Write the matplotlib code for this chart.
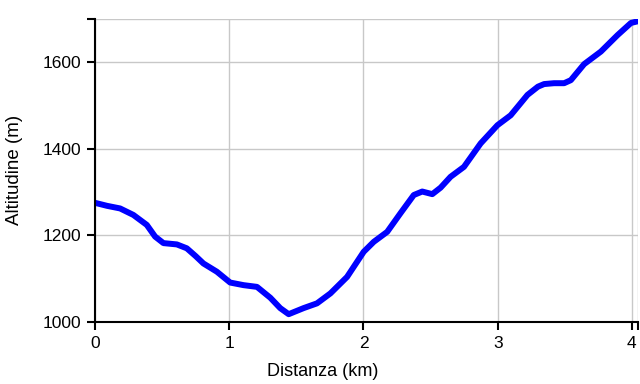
import matplotlib
matplotlib.use("Agg")
import matplotlib.pyplot as plt

plt.rcParams['font.family'] = ['Liberation Sans', 'DejaVu Sans']

dist_km = [0.0, 0.09, 0.187, 0.286, 0.386, 0.448, 0.51, 0.61, 0.684, 0.75, 0.808, 0.908, 1.007,
           1.107, 1.207, 1.306, 1.38, 1.443, 1.554, 1.654, 1.754, 1.878, 2.002, 2.077,
           2.177, 2.276, 2.375, 2.438, 2.513, 2.575, 2.649, 2.749, 2.873, 2.998, 3.097,
           3.222, 3.30, 3.346, 3.42, 3.495, 3.545, 3.644, 3.769, 3.893, 3.993, 4.045]
alt_m = [1275, 1268, 1262, 1247, 1224, 1197, 1182, 1179, 1170, 1152, 1135, 1116, 1091,
         1085, 1081, 1056, 1032, 1018, 1032, 1043, 1066, 1104, 1162, 1185,
         1208, 1251, 1293, 1301, 1295, 1310, 1335, 1358, 1412, 1454, 1477,
         1524, 1543, 1549, 1551, 1551, 1558, 1595, 1624, 1662, 1690, 1694]

xticks = [0, 1, 2, 3, 4, 4.045]
xticklabels = ['0', '1', '2', '3', '4', '']
yticks = [1000, 1200, 1400, 1600, 1700]
yticklabels = ['1000', '1200', '1400', '1600', '']

fig = plt.figure(figsize=(6.4, 3.84), dpi=100)
ax = fig.add_axes([0.1484, 0.1615, 0.8484, 0.790])
ax.plot(dist_km, alt_m, color='#0000FF', linewidth=4.3, solid_capstyle='round', solid_joinstyle='round')
ax.set_xlim(0, 4.045)
ax.set_ylim(1000, 1700)
ax.set_xticks(xticks)
ax.set_xticklabels(xticklabels)
ax.set_yticks(yticks)
ax.set_yticklabels(yticklabels)
ax.grid(True, color='#c8c8c8', linewidth=1)
ax.set_axisbelow(True)
for s in ['top', 'right']:
    ax.spines[s].set_visible(False)
for s in ['left', 'bottom']:
    ax.spines[s].set_linewidth(1.5)
    ax.spines[s].set_color('black')
ax.tick_params(direction='out', length=6, width=1.5, labelsize=12.5, colors='black', pad=4)
ax.set_xlabel('Distanza (km)', fontsize=13, labelpad=12)
ax.xaxis.set_label_coords(0.42, -0.135)
ax.set_ylabel('Altitudine (m)', fontsize=13.5, labelpad=14)
fig.savefig('out.png', dpi=100)
